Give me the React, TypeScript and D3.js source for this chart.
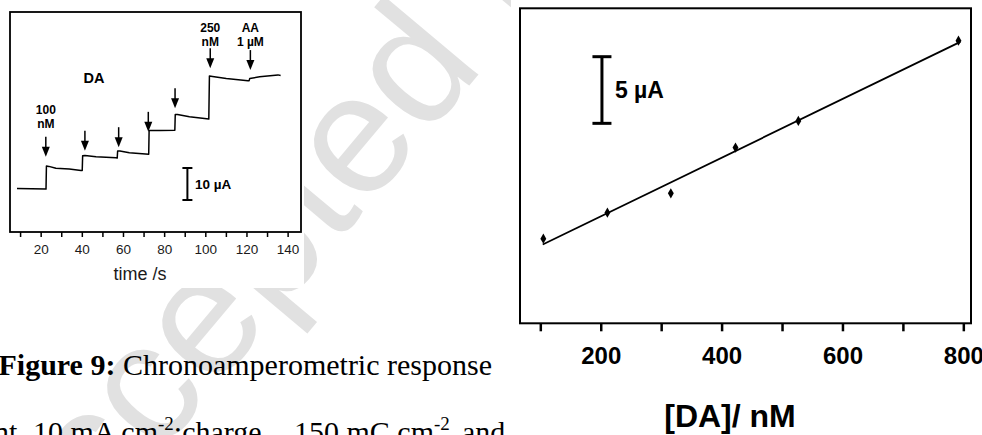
import React, { useEffect, useRef } from "react";
import * as d3 from "d3";

const W = 982;
const H = 435;

// ---- Left panel: chronoamperometric trace (time s, current µA relative) ----
const traceTime = [8.5, 22.6, 22.8, 24.0, 27.4, 33.9, 39.6, 40.2, 40.4, 41.5, 46.9, 56.6, 57.2, 57.4, 58.5, 63.1, 72.5, 72.7, 78.0, 85.2, 85.4, 86.5, 92.3, 101.7, 102.0, 103.5, 110.2, 120.7, 121.3, 121.6, 126.4, 135.3, 136.6];
const traceCurrent = [13.6, 13.4, 20.6, 20.5, 19.9, 19.7, 19.2, 19.2, 23.8, 23.9, 23.5, 23.2, 23.1, 25.3, 25.3, 24.8, 24.3, 31.7, 31.7, 31.8, 36.7, 36.7, 36.0, 35.3, 48.75, 48.6, 48.0, 47.3, 47.3, 48.0, 48.5, 49.1, 48.9];
const arrowTime = [22.5, 41.5, 57.9, 72.3, 85.3, 102.4, 121.9];
const arrowTip = [23.5, 25.4, 26.5, 31.3, 38.7, 51.2, 50.6];
const arrowLabelTime = [22.5, 102.4, 121.9];
const arrowLabelTop = ["100", "250", "AA"];
const arrowLabelBottom = ["nM", "nM", "1 µM"];
const arrowLabelLevel = [32.5, 58.1, 58.1];
const timeTicks = [10, 20, 30, 40, 50, 60, 70, 80, 90, 100, 110, 120, 130, 140];

// ---- Right panel: calibration ----
const concDA = [105, 211, 316, 423, 527, 792];
const currentDA = [6.35, 8.3, 9.75, 13.18, 15.18, 21.2];
const fitRange = [104, 795];
const concTicks = [100, 200, 300, 400, 500, 600, 700, 800];
const concLabels = [200, 400, 600, 800];

const SANS = "'Liberation Sans', Arial, sans-serif";
const SERIF = "'Liberation Serif', 'Times New Roman', serif";

export default function App() {
  const axL = useRef<SVGGElement>(null);
  const axR = useRef<SVGGElement>(null);

  const xL = d3.scaleLinear().domain([5.1, 146.5]).range([10, 301]);
  const yL = d3.scaleLinear().domain([0, 68.75]).range([232, 12]);
  const xR = d3.scaleLinear().domain([66.4, 812.7]).range([520, 971]);
  const yR = d3.scaleLinear().domain([0, 23.63]).range([323.3, 8.3]);

  // least squares fit
  const mx = d3.mean(concDA)!;
  const my = d3.mean(currentDA)!;
  const sxy = d3.sum(concDA.map((c, i) => (c - mx) * (currentDA[i] - my)));
  const sxx = d3.sum(concDA.map((c) => (c - mx) ** 2));
  const slope = sxy / sxx;
  const intercept = my - slope * mx;

  const traceLine = d3
    .line<number>()
    .x((_, i) => xL(traceTime[i]))
    .y((d) => yL(d));
  const fitLine = d3
    .line<number>()
    .x((d) => xR(d))
    .y((d) => yR(intercept + slope * d));
  const diamond = d3.symbol().type(d3.symbolDiamond).size(30)();

  useEffect(() => {
    if (axL.current) {
      const g = d3.select(axL.current);
      g.call(
        d3
          .axisBottom(xL)
          .tickValues(timeTicks)
          .tickSize(5)
          .tickPadding(7.5)
          .tickFormat((d: any) => (d % 20 === 0 ? String(d) : ""))
      );
      g.select(".domain").remove();
      g.selectAll(".tick line").attr("stroke", "#000").attr("stroke-width", 1.5);
      g.selectAll(".tick text")
        .attr("font-family", SANS)
        .attr("font-size", 13.5)
        .attr("fill", "#1a1a1a");
    }
    if (axR.current) {
      const g = d3.select(axR.current);
      g.call(
        d3
          .axisBottom(xR)
          .tickValues(concTicks)
          .tickSize(8)
          .tickPadding(15.5)
          .tickFormat((d: any) => (concLabels.includes(d) ? String(d) : ""))
      );
      g.select(".domain").remove();
      g.selectAll(".tick line").attr("stroke", "#000").attr("stroke-width", 2.5);
      g.selectAll(".tick text")
        .attr("font-family", SANS)
        .attr("font-weight", "bold")
        .attr("font-size", 24)
        .attr("fill", "#000");
    }
  }, []);

  const barLx = xL(91.3);
  const barRx = xR(202);

  return (
    <svg
      width={W}
      height={H}
      style={{ position: "absolute", left: 0, top: 0, background: "#fff" }}
    >
      {/* watermark */}
      <text
        transform="translate(30,609) rotate(-50)"
        fontFamily={SANS}
        fontSize={170}
        fill="#e1e1e1"
      >
        Accepted Manuscript
      </text>

      {/* caption */}
      <text x={-1.5} y={375} fontFamily={SERIF} fontSize={30} fill="#000">
        <tspan fontWeight="bold">Figure 9:</tspan>
        <tspan> Chronoamperometric response</tspan>
      </text>
      <text y={442} fontFamily={SERIF} fontSize={30} fill="#000" xmlSpace="preserve">
        <tspan x={-6}>nt</tspan>
        <tspan x={33}>10 mA cm</tspan>
        <tspan dy={-12} fontSize={19}>-2</tspan>
        <tspan dy={12}>;charge</tspan>
        <tspan x={294}>150 mC cm</tspan>
        <tspan dy={-12} fontSize={19}>-2</tspan>
        <tspan dy={12} x={462}>and</tspan>
      </text>

      {/* panel backgrounds */}
      <rect x={0} y={0} width={304} height={288} fill="#fff" />
      <rect x={511} y={0} width={W - 511} height={H} fill="#fff" />

      {/* ---------- left panel ---------- */}
      <rect x={10} y={12} width={291} height={220} fill="none" stroke="#000" strokeWidth={1.8} />
      <g ref={axL} transform="translate(0,232)" />
      <text x={140} y={280} textAnchor="middle" fontFamily={SANS} fontSize={18} fill="#1a1a1a">
        time /s
      </text>
      <path d={traceLine(traceCurrent) || ""} fill="none" stroke="#000" strokeWidth={1.5} strokeLinejoin="round" />
      {arrowTime.map((t, i) => {
        const x = xL(t);
        const tip = yL(arrowTip[i]);
        return (
          <g key={i}>
            <line x1={x} x2={x} y1={tip - 20} y2={tip - 8} stroke="#000" strokeWidth={1.5} />
            <path d={`M${x - 4},${tip - 10}L${x + 4},${tip - 10}L${x},${tip}Z`} fill="#000" />
          </g>
        );
      })}
      {arrowLabelTime.map((t, i) => (
        <text key={i} x={xL(t)} y={yL(arrowLabelLevel[i])} textAnchor="middle" fontFamily={SANS} fontWeight="bold" fontSize={12} fill="#000">
          <tspan x={xL(t)} dy={-14.5}>{arrowLabelTop[i]}</tspan>
          <tspan x={xL(t)} dy={14.5}>{arrowLabelBottom[i]}</tspan>
        </text>
      ))}
      <text x={xL(45.9)} y={yL(46.7)} textAnchor="middle" fontFamily={SANS} fontWeight="bold" fontSize={14.5} fill="#000">
        DA
      </text>
      <g stroke="#000" strokeWidth={2}>
        <line x1={barLx} x2={barLx} y1={yL(10)} y2={yL(20)} />
        <line x1={barLx - 5} x2={barLx + 5} y1={yL(10)} y2={yL(10)} />
        <line x1={barLx - 5} x2={barLx + 5} y1={yL(20)} y2={yL(20)} />
      </g>
      <text x={barLx + 7.5} y={yL(15) + 4.5} fontFamily={SANS} fontWeight="bold" fontSize={13.5} fill="#000">
        10 µA
      </text>

      {/* ---------- right panel ---------- */}
      <rect x={520} y={8.3} width={451} height={315} fill="none" stroke="#000" strokeWidth={2} />
      <g ref={axR} transform="translate(0,323.3)" />
      <text x={730} y={427} textAnchor="middle" fontFamily={SANS} fontWeight="bold" fontSize={32} fill="#000">
        [DA]/ nM
      </text>
      <path d={fitLine(fitRange) || ""} fill="none" stroke="#000" strokeWidth={1.8} />
      {concDA.map((c, i) => (
        <path key={i} d={diamond || ""} transform={`translate(${xR(c)},${yR(currentDA[i])})`} fill="#000" />
      ))}
      <g stroke="#000" strokeWidth={3}>
        <line x1={barRx} x2={barRx} y1={yR(15)} y2={yR(20)} />
        <line x1={barRx - 9.5} x2={barRx + 9.5} y1={yR(15)} y2={yR(15)} />
        <line x1={barRx - 9.5} x2={barRx + 9.5} y1={yR(20)} y2={yR(20)} />
      </g>
      <text x={barRx + 13} y={yR(17.5) + 7.5} fontFamily={SANS} fontWeight="bold" fontSize={23} fill="#000">
        5 µA
      </text>
    </svg>
  );
}
